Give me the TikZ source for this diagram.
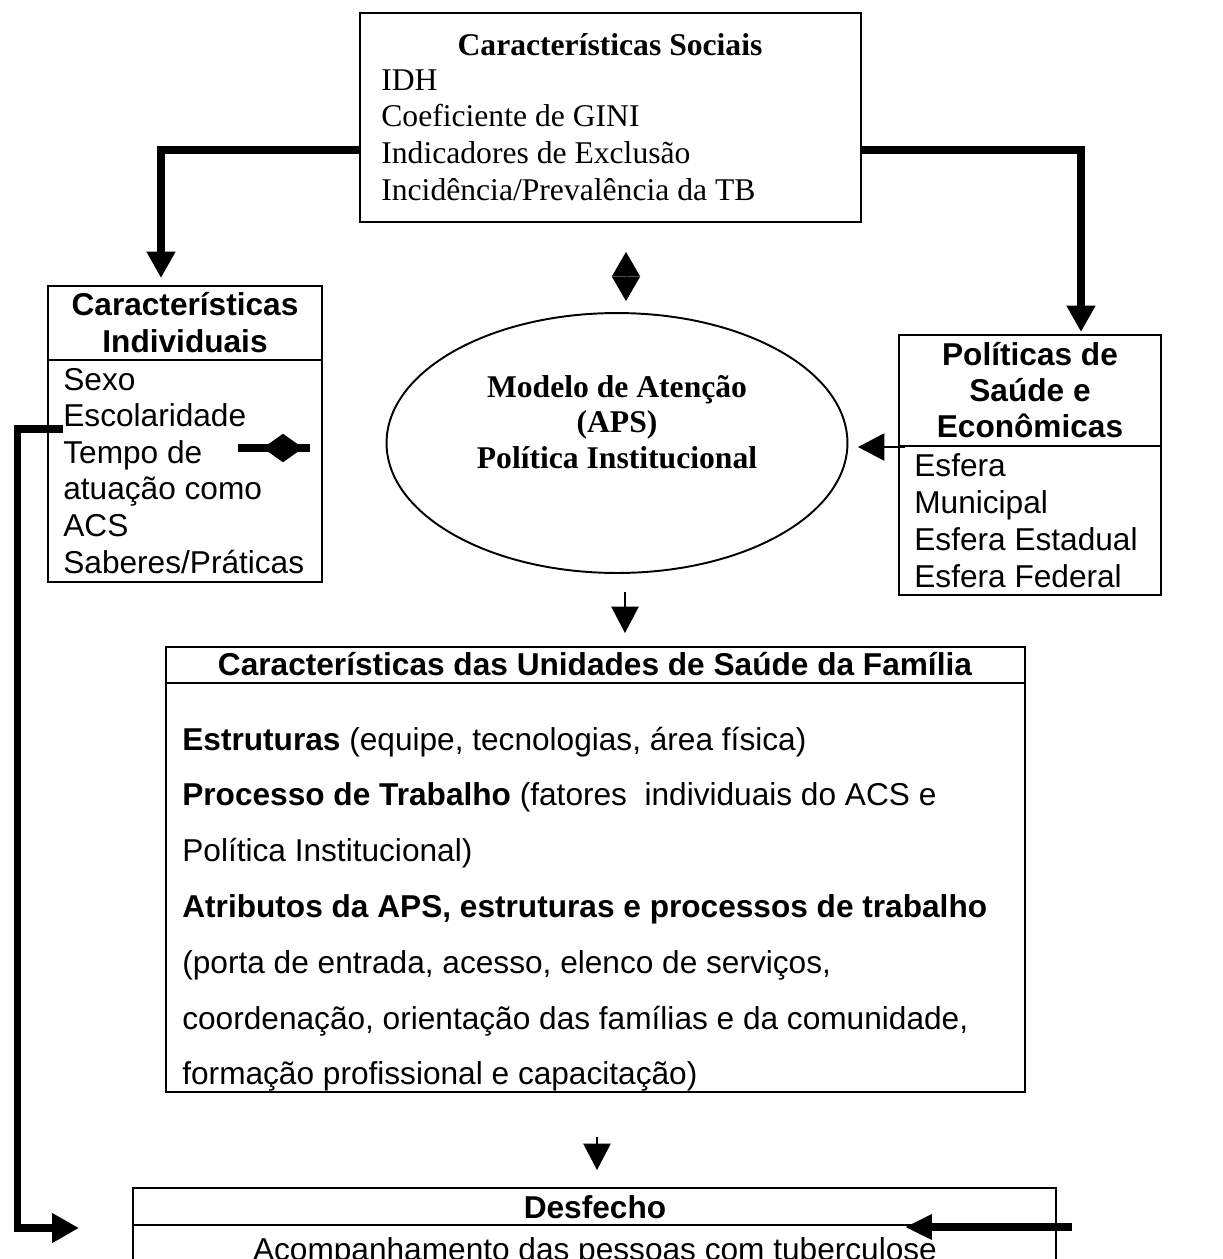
\documentclass[tikz,border=0pt]{standalone}
\usepackage{fontspec}
\setmainfont{Liberation Sans}
\newfontfamily\timesfont{Liberation Serif}
\usetikzlibrary{arrows.meta,shapes.geometric}

\begin{document}
\begin{tikzpicture}[x=0.02cm,y=-0.02cm,font=\fontsize{18}{21}\selectfont,
  box/.style={draw,line width=1.1pt,anchor=north west,inner sep=0pt,outer sep=0pt},
  txt/.style={inner sep=0pt},
  sep/.style={line width=1.1pt},
  link/.style={line width=4.5pt,-{Triangle[length=15pt,width=15.5pt]}},
  pointer/.style={line width=0.9pt,-{Triangle[length=15pt,width=15.5pt]}},
  twin/.style={{Triangle[length=#1,width=16pt]}-{Triangle[length=#1,width=16pt]}}]
\useasboundingbox (0,0) rectangle (1223,1259);

% boxes
\node[box,minimum width=10.02cm,minimum height=4.18cm] (social) at (360,13) {};
\node[box,minimum width=5.48cm,minimum height=5.92cm] (indiv) at (48,286) {};
\node[box,minimum width=5.24cm,minimum height=5.2cm] (pol) at (899,335) {};
\node[draw,ellipse,line width=1.1pt,minimum width=9.22cm,minimum height=5.2cm] (model) at (617,443) {};
\node[box,minimum width=17.18cm,minimum height=8.9cm] (unid) at (166,647) {};
\node[box,minimum width=18.46cm,minimum height=3cm] (desf) at (133,1188) {};
\draw[sep] (indiv.north west) ++(0,74) -- ++(274,0);
\draw[sep] (pol.north west) ++(0,111) -- ++(262,0);
\draw[sep] (unid.north west) ++(0,36) -- ++(859,0);
\draw[sep] (desf.north west) ++(0,37) -- ++(923,0);

% texts
\node[txt,anchor=base] (socialHead) at (610,55) {\timesfont\bfseries Características Sociais};
\foreach \t [count=\i] in {IDH,Coeficiente de GINI,Indicadores de Exclusão,Incidência/Prevalência da TB}
  \node[txt,anchor=base west] (social-\i) at (381,{90+36.67*(\i-1)}) {\timesfont \t};
\foreach \t [count=\i] in {Características,Individuais}
  \node[txt,anchor=base] (indivHead-\i) at (185,{315+37*(\i-1)}) {\bfseries \t};
\foreach \t [count=\i] in {Sexo,Escolaridade,Tempo de,atuação como,ACS,Saberes/Práticas}
  \node[txt,anchor=base west] (indiv-\i) at (63,{390+36.6*(\i-1)}) {\t};
\foreach \t [count=\i] in {Modelo de Atenção,(APS),Política Institucional}
  \node[txt,anchor=base] (model-\i) at (617,{397+35.5*(\i-1)}) {\timesfont\bfseries \t};
\foreach \t [count=\i] in {Políticas de,Saúde e,Econômicas}
  \node[txt,anchor=base] (polHead-\i) at (1030,{365+36*(\i-1)}) {\bfseries \t};
\foreach \t [count=\i] in {Esfera,Municipal,Esfera Estadual,Esfera Federal}
  \node[txt,anchor=base west] (pol-\i) at (914,{476+37*(\i-1)}) {\t};
\node[txt,anchor=base] (unidHead) at (595,675) {\bfseries Características das Unidades de Saúde da Família};
\foreach \t [count=\i] in {{\textbf{Estruturas} (equipe, tecnologias, área física)},
    {\textbf{Processo de Trabalho} (fatores \ individuais do ACS e},
    {Política Institucional)},
    {\textbf{Atributos da APS, estruturas e processos de trabalho}},
    {(porta de entrada, acesso, elenco de serviços,},
    {coordenação, orientação das famílias e da comunidade,},
    {formação profissional e capacitação)}}
  \node[txt,anchor=base west] (unid-\i) at (182,{750+55.8*(\i-1)}) {\t};
\node[txt,anchor=base] (desfHead) at (595,1218) {\bfseries Desfecho};
\node[txt,anchor=base] (desfBody) at (595,1260) {Acompanhamento das pessoas com tuberculose};

% connector ends
\coordinate (socL) at (360,150);
\coordinate (socR) at (861,150);
\coordinate (indivIn) at (161,278);
\coordinate (polIn) at (1081,332);
\coordinate (polOut) at (905,447);
\coordinate (modelIn) at (858,447);
\coordinate (modelOut) at (625,592);
\coordinate (unidIn) at (625,633);
\coordinate (unidOut) at (597,1137);
\coordinate (desfTop) at (597,1170);
\coordinate (escol) at (63,429);
\coordinate (desfL) at (79,1228);
\coordinate (rightEnd) at (1072,1227);
\coordinate (desfR) at (905,1227);

% connectors
\draw[link] (socL) -| (indivIn);
\draw[link] (socR) -| (polIn);
\draw[twin=13.9pt] (626,252) -- (626,301);
\draw[line width=4.5pt] (238,448) -- (310,448);
\draw[twin=11.3pt] (263,448) -- (303,448);
\draw[pointer] (polOut) -- (modelIn);
\draw[pointer] (modelOut) -- (unidIn);
\draw[pointer] (unidOut) -- (desfTop);
\draw[link,-{Triangle[length=15.3pt,width=16pt]}] (escol) -- ++(-45.5,0) |- (desfL);
\draw[link,-{Triangle[length=15.3pt,width=13.6pt]}] (rightEnd) -- (desfR);
\end{tikzpicture}
\end{document}
